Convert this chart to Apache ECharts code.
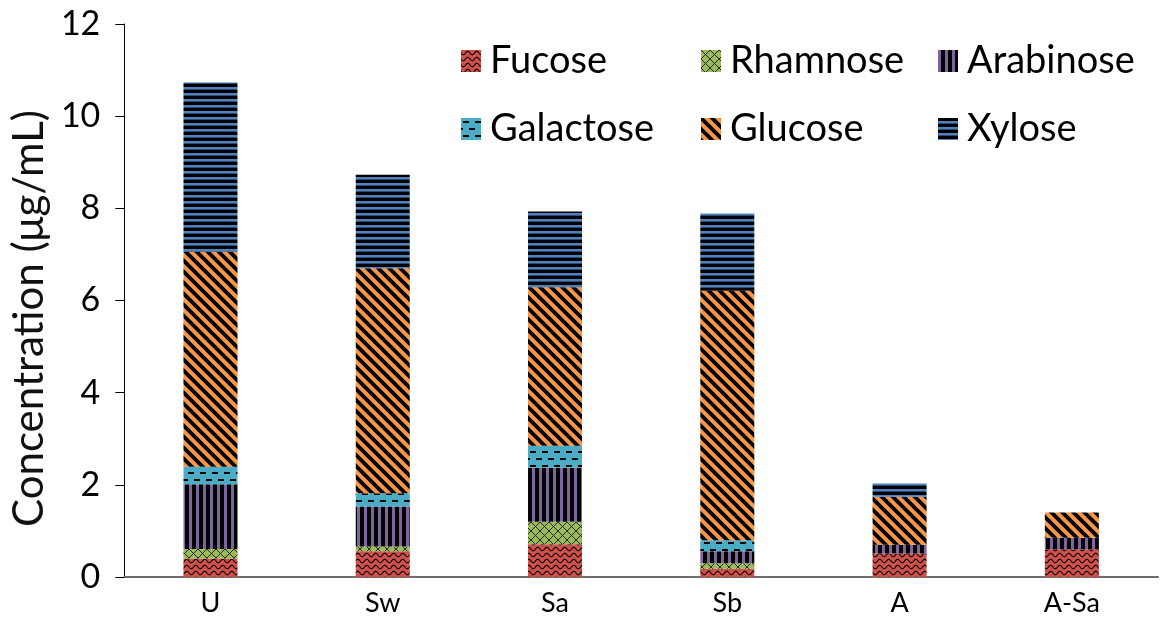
<!DOCTYPE html>
<html>
<head>
<meta charset="utf-8">
<script src="https://cdn.jsdelivr.net/npm/echarts@6/dist/echarts.min.js"></script>
<style>
html,body{margin:0;padding:0;background:#fff;}
#chart{width:1160px;height:636px;}
</style>
</head>
<body>
<div id="chart"></div>
<script>
const categories = ['U', 'Sw', 'Sa', 'Sb', 'A', 'A-Sa'];
const seriesNames = ['Fucose', 'Rhamnose', 'Arabinose', 'Galactose', 'Glucose', 'Xylose'];
const fucose    = [0.40, 0.56, 0.71, 0.18, 0.51, 0.60];
const rhamnose  = [0.21, 0.10, 0.49, 0.12, 0.00, 0.00];
const arabinose = [1.40, 0.87, 1.17, 0.26, 0.19, 0.25];
const galactose = [0.38, 0.29, 0.48, 0.24, 0.00, 0.00];
const glucose   = [4.67, 4.88, 3.44, 5.41, 1.04, 0.55];
const xylose    = [3.67, 2.03, 1.64, 1.68, 0.29, 0.00];
const yTicks = [0, 2, 4, 6, 8, 10, 12];

function makeCanvas(w, h, draw) {
  const c = document.createElement('canvas');
  c.width = w; c.height = h;
  const ctx = c.getContext('2d');
  draw(ctx, w, h);
  return { image: c, repeat: 'repeat' };
}

const patFucose = makeCanvas(9, 6, (ctx, w, h) => {
  ctx.fillStyle = '#D0504A'; ctx.fillRect(0, 0, w, h);
  ctx.strokeStyle = '#000'; ctx.lineWidth = 1.1;
  ctx.beginPath();
  for (let x = -1; x <= w + 1; x += 0.5) {
    const y = 3 + 1.7 * Math.sin(2 * Math.PI * x / w);
    if (x === -1) ctx.moveTo(x, y); else ctx.lineTo(x, y);
  }
  ctx.stroke();
});
const patRhamnose = makeCanvas(9, 9, (ctx, w, h) => {
  ctx.fillStyle = '#9BBB59'; ctx.fillRect(0, 0, w, h);
  ctx.strokeStyle = '#1a1a1a'; ctx.lineWidth = 0.9;
  ctx.beginPath();
  ctx.moveTo(-1, -1); ctx.lineTo(w + 1, h + 1);
  ctx.moveTo(w + 1, -1); ctx.lineTo(-1, h + 1);
  ctx.stroke();
});
const patArabinose = makeCanvas(7, 4, (ctx, w, h) => {
  ctx.fillStyle = '#000'; ctx.fillRect(0, 0, w, h);
  ctx.fillStyle = '#8064A2'; ctx.fillRect(0, 0, 3, h);
});
const patGalactose = makeCanvas(12, 14, (ctx, w, h) => {
  ctx.fillStyle = '#4BACC6'; ctx.fillRect(0, 0, w, h);
  ctx.fillStyle = '#000';
  ctx.fillRect(2, 3, 6, 2);
  ctx.fillRect(8, 10, 4, 2);
  ctx.fillRect(0, 10, 2, 2);
});
const patGlucose = makeCanvas(11, 11, (ctx, w, h) => {
  ctx.fillStyle = '#F79646'; ctx.fillRect(0, 0, w, h);
  ctx.strokeStyle = '#000'; ctx.lineWidth = 3.8;
  ctx.beginPath();
  for (let k = -1; k <= 1; k++) {
    ctx.moveTo(k * w - 2, -2); ctx.lineTo(k * w + w + 2, h + 2);
  }
  ctx.stroke();
});
const patXylose = makeCanvas(4, 6, (ctx, w, h) => {
  ctx.fillStyle = '#000'; ctx.fillRect(0, 0, w, h);
  ctx.fillStyle = '#4F81BD'; ctx.fillRect(0, 3, w, 2.6);
});

const patterns = [patFucose, patRhamnose, patArabinose, patGalactose, patGlucose, patXylose];
const dataSets = [fucose, rhamnose, arabinose, galactose, glucose, xylose];

const FONT = 'Lato, "Open Sans", sans-serif';

const legendPos = [
  { left: 456, top: 37 }, { left: 696, top: 37 }, { left: 933, top: 37 },
  { left: 456, top: 105 }, { left: 696, top: 105 }, { left: 933, top: 105 }
];

const legends = seriesNames.map((n, i) => ({
  data: [n],
  left: legendPos[i].left,
  top: legendPos[i].top,
  orient: 'horizontal',
  icon: 'rect',
  itemWidth: 20,
  itemHeight: 22,
  selectedMode: false,
  textStyle: { fontFamily: FONT, fontSize: 38, color: '#000', padding: [0, 0, 0, 4] }
}));

const series = seriesNames.map((n, i) => ({
  name: n,
  type: 'bar',
  stack: 'total',
  barWidth: 54,
  data: dataSets[i],
  itemStyle: { color: patterns[i] },
  emphasis: { disabled: true }
}));

const chart = echarts.init(document.getElementById('chart'), null, { renderer: 'canvas' });
chart.setOption({
  animation: false,
  backgroundColor: '#fff',
  legend: legends,
  grid: { left: 120, right: 2, top: 24, bottom: 59, containLabel: false },
  xAxis: {
    type: 'category',
    data: categories,
    axisLine: { lineStyle: { color: '#6e6e6e', width: 2 } },
    axisTick: { show: false },
    axisLabel: { fontFamily: FONT, fontSize: 27, color: '#000', margin: 13 }
  },
  yAxis: {
    type: 'value',
    min: yTicks[0],
    max: yTicks[yTicks.length - 1],
    interval: 2,
    name: 'Concentration (μg/mL)',
    nameLocation: 'middle',
    nameGap: 72,
    nameTextStyle: { fontFamily: FONT, fontSize: 42, color: '#111', padding: [0, 36, 0, 0] },
    axisLine: { show: true, lineStyle: { color: '#000', width: 1 } },
    axisTick: { show: true, inside: false, length: 9, lineStyle: { color: '#000' } },
    axisLabel: { fontFamily: FONT, fontSize: 34, color: '#000', margin: 24 },
    splitLine: { show: false }
  },
  series: series
});
</script>
</body>
</html>
